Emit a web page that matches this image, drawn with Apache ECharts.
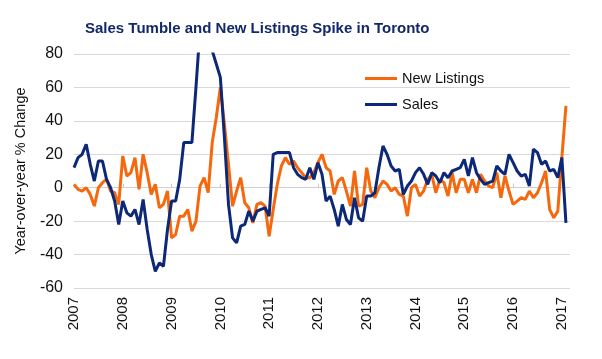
<!DOCTYPE html>
<html><head><meta charset="utf-8">
<script src="https://cdn.jsdelivr.net/npm/echarts@6/dist/echarts.min.js"></script>
<style>html,body{margin:0;padding:0;background:#fff}#c{width:602px;height:359px}</style>
</head><body><div id="c"></div>
<script>
// Monthly categories Jan 2007 .. Mar 2017 (axis runs one month past the last data point)
const firstYear = 2007;
const monthCount = 123;
const months = [];
for (let i = 0; i < monthCount; i++) {
  months.push((firstYear + Math.floor(i / 12)) + '-' + String(i % 12 + 1).padStart(2, '0'));
}

// Year-over-year % change, monthly from Jan 2007 to Feb 2017
const newListings = [
  2, -1, -2, 0, -4, -11, 0, 3, 5, -2, -3, -10,          // 2007
  19, 7, 9, 18, -1, 20, 9, -4, 2, -12, -10, -2,         // 2008
  -30, -28, -17, -17, -13, -26, -20, 1, 6, -3, 27, 42,  // 2009
  60, 38, 14, -11, -2, 6, -9, -12, -21, -10, -9, -11,   // 2010
  -29, -13, 2, 13, 18, 14, 16, 12, 9, 6, 6, 9,          // 2011
  15, 20, 12, 10, -4, 4, 6, -2, -11, 10, -11, -10,      // 2012
  12, -2, -6, 0, 4, 2, -2, 0, -4, -5, -17, 0,           // 2013
  2, -5, -2, 5, 8, -3, 5, 3, -5, 9, -3, 5,              // 2014
  5, -3, 5, -3, 8, 4, 1, 0, 9, -6, 7, -2,               // 2015
  -10, -8, -6, -7, -2, -6, -3, 3, 10, -13, -18, -14,    // 2016
  18, 49                                                // 2017
];
const sales = [
  12, 18, 20, 26, 14, 4, 16, 16, 5, 0, -8, -22,         // 2007
  -8, -15, -17, -13, -22, -7, -25, -40, -50, -45, -47, -25, // 2008
  -8, -8, 5, 27, 27, 27, 60, 95, 105, 95, 82, 74,       // 2009
  66, 30, -10, -30, -33, -23, -22, -14, -20, -14, -13, -12, // 2010
  -17, 20, 21, 21, 21, 21, 12, 8, 6, 5, 12, 5,          // 2011
  15, 8, -8, -5, -13, -23, -10, -19, -22, -6, -18, -20, // 2012
  -5, -5, -3, 12, 25, 20, 13, 10, 11, -4, 1, 4,         // 2013
  9, 12, 8, 2, 9, 7, 3, 9, 6, 10, 11, 12,               // 2014
  17, 7, 18, 9, 5, 2, 3, 4, 13, 10, 8, 20,              // 2015
  15, 10, 7, 8, 1, 23, 21, 14, 16, 10, 11, 6,           // 2016
  18, -21                                               // 2017
];

const yMin = -60, yMax = 80, yStep = 20;
const FONT = "'Liberation Sans', Arial, Helvetica, sans-serif";
const ORANGE = '#f5680d';
const NAVY = '#0c2876';

const chart = echarts.init(document.getElementById('c'), null, {renderer: 'canvas'});
chart.setOption({
  animation: false,
  backgroundColor: '#ffffff',
  title: {
    text: 'Sales Tumble and New Listings Spike in Toronto',
    left: 80, top: 16,
    textStyle: {fontFamily: FONT, fontSize: 15, fontWeight: 'bold', color: '#122868'}
  },
  legend: {
    orient: 'vertical',
    left: 360, top: 66,
    icon: 'rect',
    itemWidth: 32, itemHeight: 3, itemGap: 11,
    textStyle: {fontFamily: FONT, fontSize: 14.5, color: '#111'},
    data: ['New Listings', 'Sales']
  },
  grid: {left: 74, right: 32, top: 54, bottom: 71, containLabel: false},
  xAxis: [{
    type: 'category',
    data: months,
    boundaryGap: false,
    axisLine: {show: false, onZero: false},
    axisTick: {show: false},
    splitLine: {show: false},
    axisLabel: {
      interval: (idx) => idx % 12 === 0,
      formatter: (v) => v.split('-')[0],
      rotate: 90, margin: 9,
      fontFamily: FONT, fontSize: 15, color: '#111'
    }
  }, {
    type: 'category',
    data: months,
    boundaryGap: false,
    position: 'bottom',
    axisLine: {show: true, onZero: true, lineStyle: {color: '#d0d0d0', width: 1}},
    axisTick: {show: true, interval: (idx) => idx % 12 === 0, length: 4, inside: true, lineStyle: {color: '#c8c8c8'}},
    axisLabel: {show: false},
    splitLine: {show: false}
  }],
  yAxis: {
    type: 'value',
    min: yMin, max: yMax, interval: yStep,
    name: 'Year-over-year % Change',
    nameLocation: 'middle',
    nameGap: 40,
    nameTextStyle: {fontFamily: FONT, fontSize: 14.5, color: '#111'},
    axisLine: {show: false},
    axisTick: {show: false},
    axisLabel: {fontFamily: FONT, fontSize: 16, color: '#111', margin: 11},
    splitLine: {lineStyle: {color: '#d9d9d9', width: 1}}
  },
  series: [{
    name: 'New Listings',
    type: 'line',
    data: newListings,
    symbol: 'none',
    clip: true,
    lineStyle: {color: ORANGE, width: 3},
    itemStyle: {color: ORANGE},
    z: 2
  }, {
    name: 'Sales',
    type: 'line',
    data: sales,
    symbol: 'none',
    clip: true,
    lineStyle: {color: NAVY, width: 3},
    itemStyle: {color: NAVY},
    z: 3
  }]
});
</script></body></html>
